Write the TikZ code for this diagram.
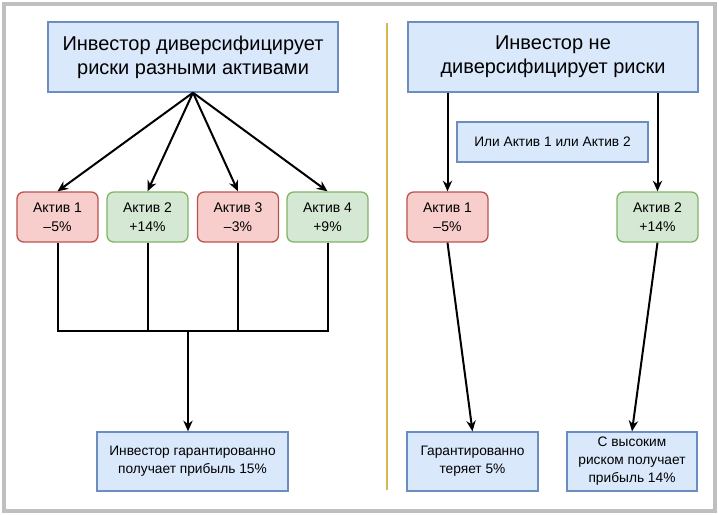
\documentclass[tikz,border=0pt]{standalone}
\usepackage{fontspec}
\setmainfont{Liberation Sans}
\usetikzlibrary{arrows.meta,positioning}
\definecolor{blfill}{HTML}{DAE8FC}
\definecolor{bldraw}{HTML}{6C8EBF}
\definecolor{rdfill}{HTML}{F8CECC}
\definecolor{rddraw}{HTML}{B85450}
\definecolor{grfill}{HTML}{D5E8D4}
\definecolor{grdraw}{HTML}{82B366}
\definecolor{divline}{HTML}{D6B656}
\definecolor{frame}{HTML}{BFBFBF}

\begin{document}
\begin{tikzpicture}[x=0.75pt, y=-0.75pt,
  head/.style={draw=bldraw, fill=blfill, line width=1pt, inner sep=0pt,
               minimum width=217.5pt, minimum height=52.5pt, align=center,
               font=\fontsize{15}{18}\selectfont},
  asset/.style={draw, rounded corners=5pt, line width=1pt, inner sep=0pt,
                minimum width=60.75pt, minimum height=37.5pt, align=center,
                font=\fontsize{10.5}{14}\selectfont},
  loss/.style={asset, draw=rddraw, fill=rdfill},
  gain/.style={asset, draw=grdraw, fill=grfill},
  result/.style={draw=bldraw, fill=blfill, line width=1pt, inner sep=0pt,
                 minimum height=44.25pt, align=center,
                 font=\fontsize{10.3}{13.5}\selectfont},
  arr/.style={-{Stealth[length=8pt,width=7pt]}, line width=1.5pt},
  conn/.style={line width=1.5pt}
]
\useasboundingbox (0,0) rectangle (719,515);
\draw[frame, line width=3pt] (4,4) rectangle (715,511);
\draw[divline, line width=1.2pt] (387,23) -- (387,490);

% left: diversified
\node[head] (divhead) at (193,57) {Инвестор диверсифицирует\\риски разными активами};
\node[loss] (a1) at (57.5,217) {Актив 1\\–5\%};
\node[gain] (a2) at (147.5,217) {Актив 2\\+14\%};
\node[loss] (a3) at (238,217) {Актив 3\\–3\%};
\node[gain] (a4) at (327.5,217) {Актив 4\\+9\%};
\node[result, minimum width=143.25pt] (sure) at (192.5,461.5)
  {Инвестор гарантированно\\получает прибыль 15\%};
\foreach \a in {a1,a2,a3,a4}
  \draw[arr] (divhead.south) -- (\a.north);
\coordinate (join) at (188,331);
\draw[conn] (a1.south) |- (join);
\draw[conn] (a4.south) |- (join);
\draw[conn] (a2.south) -- (a2.south |- join);
\draw[conn] (a3.south) -- (a3.south |- join);
\draw[arr] (join) -- (join |- sure.north);

% right: not diversified
\node[head] (onehead) at (553,57) {Инвестор не\\диверсифицирует риски};
\node[result, minimum width=143.25pt, minimum height=30pt] (either) at (552.5,142)
  {Или Актив 1 или Актив 2};
\node[loss] (b1) at (447.5,217) {Актив 1\\–5\%};
\node[gain] (b2) at (657.5,217) {Актив 2\\+14\%};
\node[result, minimum width=98.25pt] (lose) at (472.5,461.5)
  {Гарантированно\\теряет 5\%};
\node[result, minimum width=97.5pt] (risk) at (632,461.5)
  {С высоким\\риском получает\\прибыль 14\%};
\draw[arr] (onehead.south -| b1) -- (b1.north);
\draw[arr] (onehead.south -| b2) -- (b2.north);
\draw[arr] (b1.south) -- (lose.north);
\draw[arr] (b2.south) -- (risk.north);
\end{tikzpicture}
\end{document}
